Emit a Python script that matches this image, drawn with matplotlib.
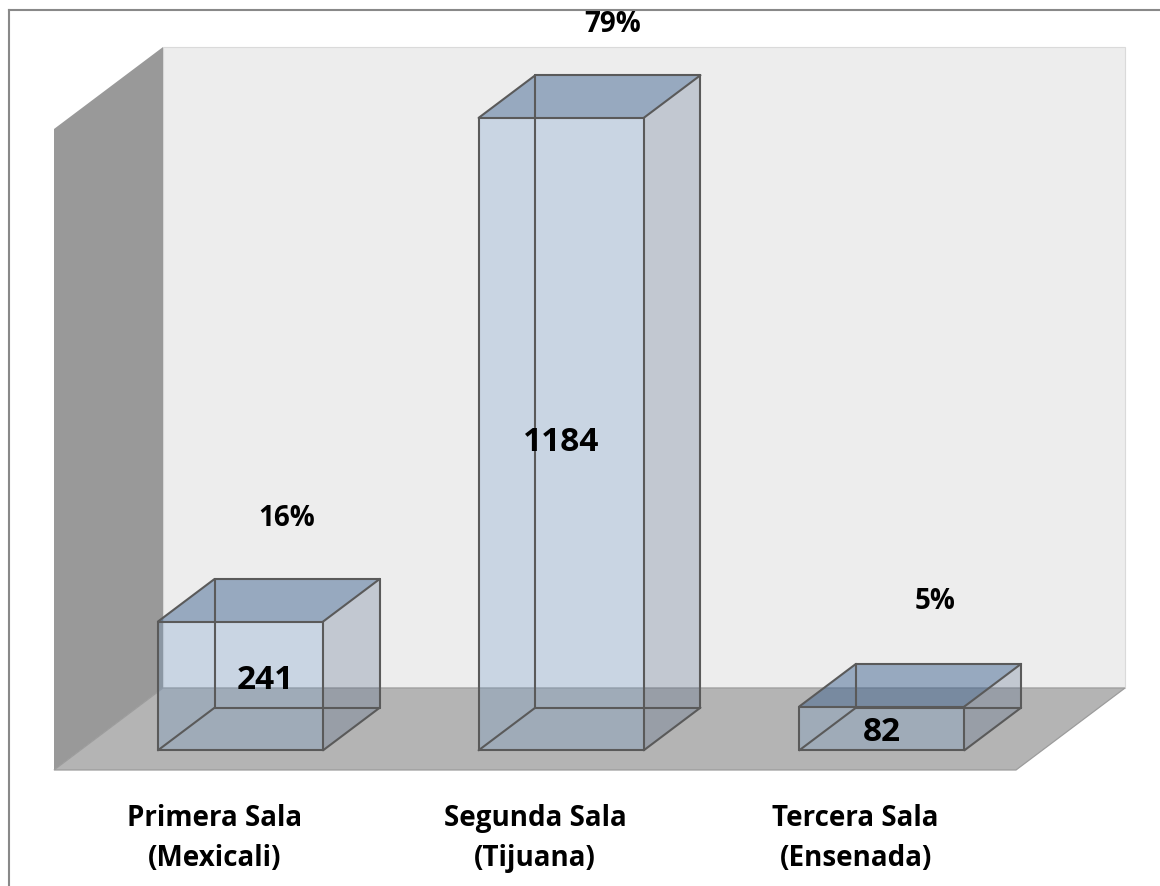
import numpy as np
import matplotlib
matplotlib.use('Agg')
import matplotlib.pyplot as plt
from matplotlib.patches import Polygon

plt.rcParams['font.family'] = ['Open Sans', 'DejaVu Sans']

categories = ['Primera Sala\n(Mexicali)', 'Segunda Sala\n(Tijuana)', 'Tercera Sala\n(Ensenada)']
values = [241, 1184, 82]
percents = [round(v / sum(values) * 100) for v in values]
y_max = 1200

# oblique "3d" projection in data units: a full step in depth moves right and up
DX, DV = 0.340, 153.5
bar_w = 0.515
d_front, d_back = 0.24, 0.76


def proj(x, v, d):
    return (x + d * DX, v + d * DV)


fig = plt.figure(figsize=(11.6, 8.86), dpi=100)
ax = fig.add_axes([0, 0, 1, 1])
ax.set_xlim(-0.6684, 2.949)
ax.set_ylim(-217.2, 1441.5)
ax.axis('off')

x0, x1 = -0.5, len(values) - 0.5

# walls and floor
left_wall = [proj(x0, 0, 0), proj(x0, 0, 1), proj(x0, y_max, 1), proj(x0, y_max, 0)]
back_wall = [proj(x0, 0, 1), proj(x1, 0, 1), proj(x1, y_max, 1), proj(x0, y_max, 1)]
floor = [proj(x0, 0, 0), proj(x1, 0, 0), proj(x1, 0, 1), proj(x0, 0, 1)]
ax.add_patch(Polygon(back_wall, closed=True, facecolor='#ededed', edgecolor='#dadada', lw=0.8))
ax.add_patch(Polygon(left_wall, closed=True, facecolor='#999999', edgecolor='none'))
ax.add_patch(Polygon(floor, closed=True, facecolor='#b4b4b4', edgecolor='#9c9c9c', lw=0.9))

edge = '#5a5a5a'
for i, v in enumerate(values):
    l, r = i - bar_w / 2, i + bar_w / 2
    P = {}
    for name, xx in (('l', l), ('r', r)):
        for vn, vv in (('b', 0), ('t', v)):
            for dn, dd in (('f', d_front), ('k', d_back)):
                P[name + vn + dn] = proj(xx, vv, dd)
    front = [P['lbf'], P['rbf'], P['rtf'], P['ltf']]
    side = [P['rbf'], P['rbk'], P['rtk'], P['rtf']]
    top = [P['ltf'], P['rtf'], P['rtk'], P['ltk']]
    ax.add_patch(Polygon(front, closed=True, facecolor=(100/255, 146/255, 199/255), alpha=0.26, edgecolor='none'))
    ax.add_patch(Polygon(side, closed=True, facecolor=(69/255, 93/255, 129/255), alpha=0.25, edgecolor='none'))
    ax.add_patch(Polygon(top, closed=True, facecolor=(48/255, 88/255, 137/255), alpha=0.45, edgecolor='none'))
    # all twelve edges, hidden ones show through the glass
    pairs = [('lbf', 'rbf'), ('rbf', 'rtf'), ('rtf', 'ltf'), ('ltf', 'lbf'),
             ('lbk', 'rbk'), ('rbk', 'rtk'), ('rtk', 'ltk'), ('ltk', 'lbk'),
             ('lbf', 'lbk'), ('rbf', 'rbk'), ('rtf', 'rtk'), ('ltf', 'ltk')]
    for a, b in pairs:
        ax.plot([P[a][0], P[b][0]], [P[a][1], P[b][1]], color=edge, lw=1.5,
                solid_capstyle='round', zorder=3)

# labels (offsets in pixels)
val_off = [(25, 5), (0, -8), (0, -4)]
pct_off = [(-11, 60), (-5, 51), (-3, 62)]
for i, v in enumerate(values):
    cx, cy = proj(i, v / 2, d_front)
    ax.annotate(str(v), (cx, cy), xytext=(val_off[i][0] * 0.72, val_off[i][1] * 0.72),
                textcoords='offset points', ha='center', va='center',
                fontsize=24, fontweight='bold', color='black', zorder=5)
    px, py = proj(i, v, d_back)
    ax.annotate(f'{percents[i]}%', (px, py), xytext=(pct_off[i][0] * 0.72, pct_off[i][1] * 0.72),
                textcoords='offset points', ha='center', va='center',
                fontsize=20, fontweight='bold', color='black', zorder=5)
    lx, ly = proj(i, 0, 0)
    ax.annotate(categories[i], (lx, ly), xytext=(0, -69 * 0.72),
                textcoords='offset points', ha='center', va='center',
                fontsize=20, fontweight='bold', color='black', linespacing=1.5)

# outer frame (only top and left edges show in the crop)
fig.add_artist(plt.Line2D([9 / 1160, 9 / 1160], [0, 1 - 10 / 886], color='#898989', lw=1.5))
fig.add_artist(plt.Line2D([9 / 1160, 1], [1 - 10 / 886, 1 - 10 / 886], color='#898989', lw=1.5))

fig.savefig('out.png', dpi=100)
